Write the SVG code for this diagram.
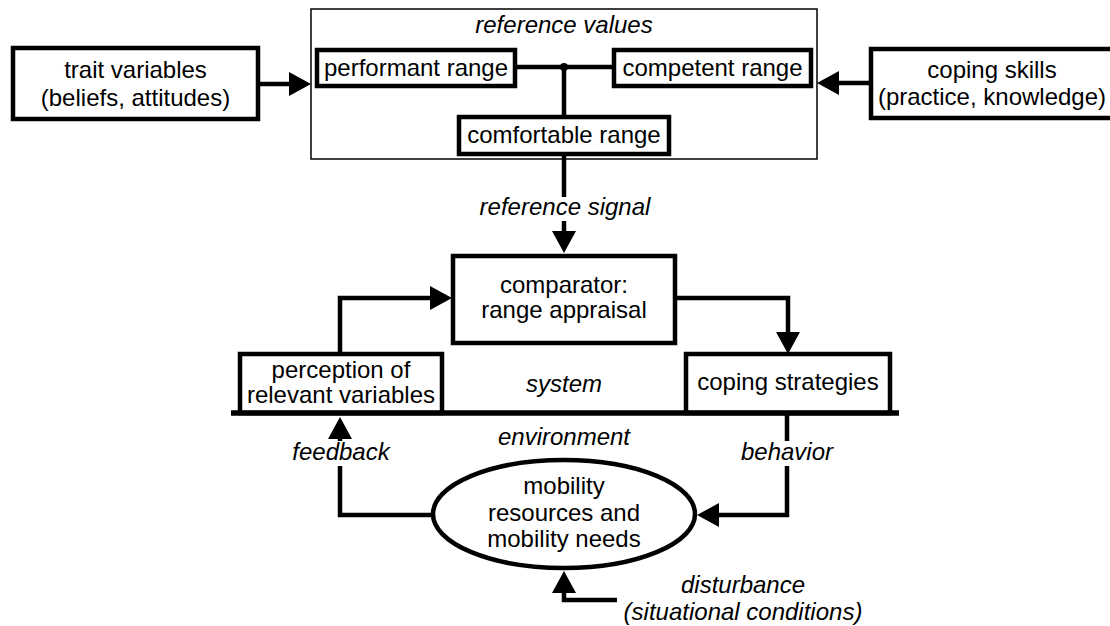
<svg xmlns="http://www.w3.org/2000/svg" width="1110" height="626" viewBox="0 0 1110 626">
<defs>
<style>
.box{fill:#fff;stroke:#000;stroke-width:4.5}
.thin{fill:#fff;stroke:#000;stroke-width:1.5}
.t{font-family:"Liberation Sans",Arial,sans-serif;font-size:24px;fill:#000;text-anchor:middle}
.i{font-style:italic}
.c{fill:none;stroke:#000;stroke-width:4.5;stroke-linejoin:miter}
.bg{fill:#fff}
</style>
<marker id="ah" viewBox="0 0 22 24" markerWidth="22" markerHeight="24" refX="4" refY="12" orient="auto" markerUnits="userSpaceOnUse">
<path d="M0,0 L22,12 L0,24 Z" fill="#000"/>
</marker>
</defs>
<rect width="1110" height="626" fill="#fff"/>
<g id="reference-values">
<rect class="thin" x="311" y="9" width="506" height="150"/>
<text class="t i" x="564" y="33">reference values</text>
</g>
<g id="connectors">
<path class="c" d="M258,84 H293" marker-end="url(#ah)"/>
<path class="c" d="M871,83 H835" marker-end="url(#ah)"/>
<path class="c" d="M515,67 H614 M564,67 V117"/>
<circle cx="564" cy="67" r="4" fill="#000"/>
<path class="c" d="M564,154 V235" marker-end="url(#ah)"/>
<path class="c" d="M340,354 V298 H434" marker-end="url(#ah)"/>
<path class="c" d="M675,298 H788 V336" marker-end="url(#ah)"/>
<path class="c" d="M432,515 H340 V435" marker-end="url(#ah)"/>
<path class="c" d="M787,413 V515 H715" marker-end="url(#ah)"/>
<path class="c" d="M617,600 H564 V589" marker-end="url(#ah)"/>
<rect class="bg" x="476" y="197" width="178" height="24"/>
<text class="t i" x="565" y="215">reference signal</text>
<rect class="bg" x="290" y="441" width="103" height="25"/>
<text class="t i" x="341" y="460">feedback</text>
<rect class="bg" x="740" y="441" width="95" height="25"/>
<text class="t i" x="787" y="460">behavior</text>
</g>
<g id="trait-variables">
<rect class="box" x="13" y="48" width="245" height="71"/>
<text class="t" x="135.5" y="78">trait variables</text>
<text class="t" x="135.5" y="106">(beliefs, attitudes)</text>
</g>
<g id="coping-skills">
<rect class="box" x="871" y="49" width="244" height="69"/>
<text class="t" x="992" y="78">coping skills</text>
<text class="t" x="992" y="105">(practice, knowledge)</text>
</g>
<g id="performant-range">
<rect class="box" x="317" y="50" width="198" height="36"/>
<text class="t" x="416" y="76">performant range</text>
</g>
<g id="competent-range">
<rect class="box" x="614" y="50" width="197" height="36"/>
<text class="t" x="712.5" y="76">competent range</text>
</g>
<g id="comfortable-range">
<rect class="box" x="459" y="117" width="210" height="37"/>
<text class="t" x="564" y="143">comfortable range</text>
</g>
<g id="comparator">
<rect class="box" x="453" y="256" width="222" height="87"/>
<text class="t" x="564" y="293">comparator:</text>
<text class="t" x="564" y="318">range appraisal</text>
</g>
<g id="perception">
<rect class="box" x="240" y="354" width="202" height="59"/>
<text class="t" x="341" y="378">perception of</text>
<text class="t" x="341" y="403">relevant variables</text>
</g>
<g id="coping-strategies">
<rect class="box" x="686" y="354" width="204" height="59"/>
<text class="t" x="788" y="390">coping strategies</text>
</g>
<g id="system-boundary">
<line x1="231" y1="413" x2="899" y2="413" stroke="#000" stroke-width="5.5"/>
<text class="t i" x="564" y="392">system</text>
<text class="t i" x="564" y="445">environment</text>
</g>
<g id="mobility">
<ellipse class="box" cx="564" cy="514" rx="131" ry="54"/>
<text class="t" x="564" y="494">mobility</text>
<text class="t" x="564" y="521">resources and</text>
<text class="t" x="564" y="547">mobility needs</text>
</g>
<g id="disturbance">
<text class="t i" x="743" y="593">disturbance</text>
<text class="t i" x="743" y="620">(situational conditions)</text>
</g>
</svg>
